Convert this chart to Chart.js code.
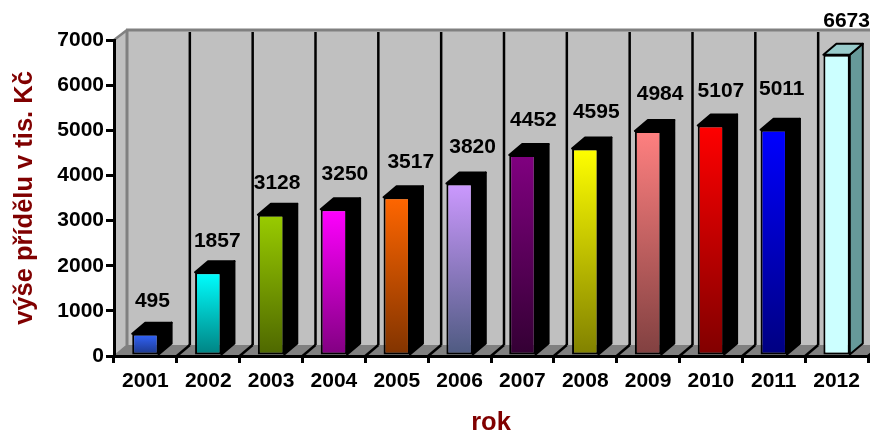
<!DOCTYPE html>
<html>
<head>
<meta charset="utf-8">
<title>Výše přídělu</title>
<script src="https://cdn.jsdelivr.net/npm/chart.js@4"></script>
<style>
  html, body { margin: 0; padding: 0; background: #fff; }
  #box { position: relative; width: 870px; height: 432px; }
</style>
</head>
<body>
<div id="box"><canvas id="chart"></canvas></div>
<script>
'use strict';

const years = ['2001', '2002', '2003', '2004', '2005', '2006', '2007', '2008', '2009', '2010', '2011', '2012'];
const allocations = [495, 1857, 3128, 3250, 3517, 3820, 4452, 4595, 4984, 5107, 5011, 6673];

// top and bottom colour of each bar's gradient
const topColors = ['#3366ff', '#00ffff', '#99cc00', '#ff00ff', '#ff6600', '#cc99ff', '#800080', '#ffff00', '#ff8080', '#ff0000', '#0000ff', '#ccffff'];
const bottomColors = ['#1a3380', '#008080', '#4d6600', '#800080', '#803300', '#4d5a80', '#330033', '#808000', '#804040', '#800000', '#000080', '#ccffff'];

// side and top faces, only the last bar is not black
const sideColors = ['#000', '#000', '#000', '#000', '#000', '#000', '#000', '#000', '#000', '#000', '#000', '#669999'];
const capColors = ['#000', '#000', '#000', '#000', '#000', '#000', '#000', '#000', '#000', '#000', '#000', '#99cccc'];

// hand-placed value labels, nudged away from the default spot above each bar
const labelNudgeX = [7, 9, 6, 11, 14, 13, 11, 11, 12, 10, 8, 10];
const labelNudgeY = [0, 1, 0, -3, -3, -4, -3, -4, -5, -2, -9, -2];

const depthX = 13;
const depthY = 11;
const fontName = '"Liberation Sans", Arial, sans-serif';

function poly(ctx, pts, fill, stroke, width) {
  ctx.beginPath();
  ctx.moveTo(pts[0][0], pts[0][1]);
  for (let i = 1; i < pts.length; i++) {
    ctx.lineTo(pts[i][0], pts[i][1]);
  }
  ctx.closePath();
  if (fill) {
    ctx.fillStyle = fill;
    ctx.fill();
  }
  if (stroke) {
    ctx.strokeStyle = stroke;
    ctx.lineWidth = width;
    ctx.lineJoin = 'round';
    ctx.stroke();
  }
}

function line(ctx, x1, y1, x2, y2, color, width) {
  ctx.beginPath();
  ctx.moveTo(x1, y1);
  ctx.lineTo(x2, y2);
  ctx.strokeStyle = color;
  ctx.lineWidth = width;
  ctx.stroke();
}

// back wall, side wall and floor behind the axes
const roomPlugin = {
  id: 'room',
  beforeDraw(chart) {
    const ctx = chart.ctx;
    const area = chart.chartArea;
    const l = area.left, r = area.right, t = area.top, b = area.bottom;
    const backL = l + depthX, backT = t - depthY + 1, backB = b - depthY;
    const edge = chart.width;

    ctx.save();
    poly(ctx, [[backL, backT], [edge, backT], [edge, backB], [backL, backB]], '#c0c0c0');
    poly(ctx, [[l, t], [backL, backT], [backL, backB], [l, b]], '#c0c0c0');
    poly(ctx, [[l, b], [backL, backB], [edge, backB], [edge, b]], '#808080');

    line(ctx, l, t, backL, backT, '#808080', 2.5);
    line(ctx, backL - 1, backT, edge, backT, '#808080', 3);
    line(ctx, backL, backT, backL, backB, '#808080', 3);
    line(ctx, l, b, backL, backB, '#808080', 1.5);

    // divider per year, up the wall and across the floor
    const step = (r - l) / years.length;
    for (let i = 1; i <= years.length; i++) {
      const x = l + step * i;
      line(ctx, x + depthX, backT + 2, x + depthX, backB, '#000', 2.5);
      line(ctx, x, b, x + depthX, backB, '#000', 2.5);
    }
    ctx.restore();
  },
  beforeDatasetsDraw(chart) {
    const ctx = chart.ctx;
    const bars = chart.getDatasetMeta(0).data;
    ctx.save();
    bars.forEach((bar, i) => {
      const half = bar.width / 2;
      const left = bar.x - half, right = bar.x + half;
      const top = bar.y, bottom = bar.base;
      poly(ctx, [[right, top], [right + depthX, top - depthY], [right + depthX, bottom - depthY], [right, bottom]], sideColors[i], '#000', 2);
      poly(ctx, [[left, top], [left + depthX, top - depthY], [right + depthX, top - depthY], [right, top]], capColors[i], '#000', 2);
    });
    ctx.restore();
  },
  afterDatasetsDraw(chart) {
    const ctx = chart.ctx;
    const bars = chart.getDatasetMeta(0).data;
    ctx.save();
    ctx.font = 'bold 21px ' + fontName;
    ctx.fillStyle = '#000';
    ctx.textAlign = 'center';
    ctx.textBaseline = 'middle';
    bars.forEach((bar, i) => {
      ctx.fillText(String(allocations[i]), bar.x + labelNudgeX[i], bar.y - 32 + labelNudgeY[i]);
    });
    ctx.restore();
  }
};

function barGradient(c) {
  const chart = c.chart;
  const y = chart.scales && chart.scales.y;
  if (!y || c.dataIndex === undefined) {
    return topColors[0];
  }
  const y1 = y.getPixelForValue(allocations[c.dataIndex]);
  const y2 = y.getPixelForValue(0);
  // scale has no pixels yet on the first options pass
  if (!isFinite(y1) || !isFinite(y2)) {
    return topColors[c.dataIndex];
  }
  const g = chart.ctx.createLinearGradient(0, y1, 0, y2);
  g.addColorStop(0, topColors[c.dataIndex]);
  g.addColorStop(1, bottomColors[c.dataIndex]);
  return g;
}

new Chart(document.getElementById('chart'), {
  type: 'bar',
  data: {
    labels: years,
    datasets: [{
      data: allocations,
      backgroundColor: barGradient,
      borderColor: '#000',
      borderWidth: 2,
      borderSkipped: false,
      barPercentage: 0.42,
      categoryPercentage: 1
    }]
  },
  options: {
    responsive: true,
    maintainAspectRatio: false,
    animation: false,
    layout: { padding: { top: 40, right: 2, left: 0, bottom: 0 } },
    plugins: { legend: { display: false }, tooltip: { enabled: false } },
    scales: {
      x: {
        afterFit(s) { s.height = 76; },
        grid: { drawOnChartArea: false, color: '#000', lineWidth: 3, tickLength: 7, offset: true },
        border: { color: '#000', width: 3 },
        ticks: { color: '#000', font: { family: fontName, weight: 'bold', size: 21 }, padding: 6, maxRotation: 0, autoSkip: false },
        title: { display: true, text: 'rok', color: '#800000', font: { family: fontName, weight: 'bold', size: 25.5 }, padding: { top: 20, bottom: -6 } }
      },
      y: {
        min: 0,
        max: 7000,
        afterFit(s) { s.width = 114; },
        grid: { drawOnChartArea: false, color: '#000', lineWidth: 3, tickLength: 8 },
        border: { color: '#000', width: 3 },
        ticks: {
          stepSize: 1000,
          color: '#000',
          font: { family: fontName, weight: 'bold', size: 21 },
          padding: 2,
          callback: (value) => String(value)
        },
        title: { display: true, text: 'výše přídělu v tis. Kč', color: '#800000', font: { family: fontName, weight: 'bold', size: 25.5 }, padding: { top: 10, bottom: 0 } }
      }
    }
  },
  plugins: [roomPlugin]
});
</script>
</body>
</html>
